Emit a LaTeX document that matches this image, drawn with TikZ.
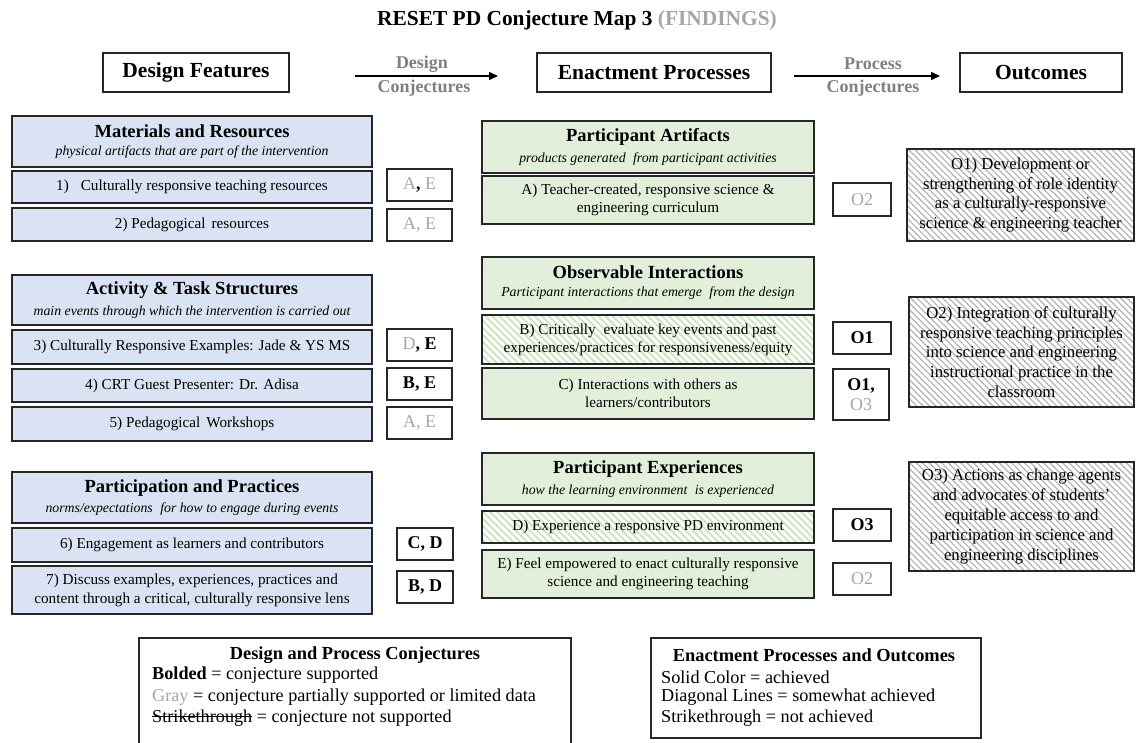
\documentclass[tikz,border=0pt]{standalone}
\usepackage{fontspec}
\setmainfont{Liberation Serif}
\usetikzlibrary{arrows.meta,patterns.meta}
\definecolor{blueF}{HTML}{DAE3F3}
\definecolor{greenF}{HTML}{E2EFDA}
\definecolor{greenH}{HTML}{CFE3C0}
\definecolor{hatchG}{HTML}{B3B3B3}
\definecolor{lgray}{HTML}{A6A6A6}
\definecolor{mgray}{HTML}{808080}
\definecolor{edge}{HTML}{262626}
\newcommand{\fsz}[2]{\fontsize{#1}{#2}\selectfont}
\newsavebox{\mystrkbox}
\newcommand{\mystrike}[1]{\sbox{\mystrkbox}{#1}\rlap{\rule[0.28em]{\wd\mystrkbox}{0.06em}}\usebox{\mystrkbox}}
\tikzset{
  box/.style={draw=edge, line width=1.4pt, inner sep=0pt, align=center, text=black},
  bluebox/.style={box, fill=blueF},
  greenbox/.style={box, fill=greenF},
  greenhatch/.style={box, pattern={Lines[angle=135,distance=5pt,line width=2pt]}, pattern color=greenH},
  grayhatch/.style={box, pattern={Lines[angle=135,distance=4.5pt,line width=1.2pt]}, pattern color=hatchG},
  tagbox/.style={box, fill=white, font=\fsz{18}{20}},
  hdrbox/.style={box, fill=white, font=\fsz{21.5}{24}\bfseries},
  itemtext/.style={font=\fsz{15.2}{18}},
  obox/.style={grayhatch, font=\fsz{16.75}{19.8}},
  lbl/.style={inner sep=0pt, font=\fsz{18}{20}\bfseries, text=mgray},
  legtitle/.style={inner sep=0pt, font=\fsz{18.4}{21}\bfseries},
  legline/.style={inner sep=0pt, anchor=west, font=\fsz{18.2}{21}},
  legbox/.style={draw=edge, line width=1.4pt, fill=white, inner sep=0pt},
  arr/.style={line width=1.5pt, -{Triangle[length=9pt,width=8pt]}},
}
\newcommand{\hd}[2]{{\fsz{18.5}{21}\bfseries #1}\\[6pt]{\fsz{13.8}{15}\itshape #2}}
\begin{document}
\begin{tikzpicture}[x=1pt,y=-1pt]
\fill[white] (0,0) rectangle (1138,743);
\useasboundingbox (0,0) rectangle (1138,743);
\begin{scope}
\clip (0,0) rectangle (1138,743);
% title
\node[inner sep=0pt, font=\fsz{21.4}{24}\bfseries] (title) at (577,20) {RESET PD Conjecture Map 3 \textcolor{lgray}{(FINDINGS)}};
% header row
\node[hdrbox, minimum width=186pt, minimum height=39pt] (hdf) at (196,72.5) {Design Features};
\node[hdrbox, minimum width=234pt, minimum height=39pt] (hep) at (654,72.5) {Enactment Processes};
\node[hdrbox, minimum width=162pt, minimum height=39pt] (hou) at (1041,72.5) {Outcomes};
\coordinate (a1s) at (355,76); \coordinate (a1e) at (498,76);
\coordinate (a2s) at (794,76); \coordinate (a2e) at (940,76);
\draw[arr] (a1s) -- (a1e);
\draw[arr] (a2s) -- (a2e);
\node[lbl] (a1t) at (422,64) {Design};
\node[lbl] (a1b) at (424,88) {Conjectures};
\node[lbl] (a2t) at (873,64) {Process};
\node[lbl] (a2b) at (873,88) {Conjectures};
% left column
\node[bluebox, minimum width=360pt, minimum height=51pt] (mat) at (192,141.5) {\hd{Materials and Resources}{physical artifacts that are part of the intervention}};
\node[bluebox, itemtext, minimum width=360pt, minimum height=32pt] (i1) at (192,187) {1)\hspace{12pt}Culturally responsive teaching resources};
\node[bluebox, itemtext, minimum width=360pt, minimum height=33pt] (i2) at (192,224.5) {2) Pedagogical\hspace{6pt}resources};
\node[bluebox, minimum width=360pt, minimum height=50pt] (act) at (192,300) {\hd{Activity \& Task Structures}{main events through which the intervention is carried out}};
\node[bluebox, itemtext, minimum width=360pt, minimum height=34pt] (i3) at (192,347) {3) Culturally Responsive Examples: Jade \& YS MS};
\node[bluebox, itemtext, minimum width=360pt, minimum height=33pt] (i4) at (192,385.5) {4) CRT Guest Presenter: Dr. Adisa};
\node[bluebox, itemtext, minimum width=360pt, minimum height=34pt] (i5) at (192,424) {5) Pedagogical\hspace{6pt}Workshops};
\node[bluebox, minimum width=360pt, minimum height=51pt] (par) at (192,497.5) {\hd{Participation and Practices}{norms/expectations\hspace{4pt} for how to engage during events}};
\node[bluebox, itemtext, minimum width=360pt, minimum height=34pt] (i6) at (192,545) {6) Engagement as learners and contributors};
\node[bluebox, itemtext, minimum width=360pt, minimum height=48pt] (i7) at (192,590) {7) Discuss examples, experiences, practices and\\[1pt]content through a critical, culturally responsive lens};
% left tags
\node[tagbox, minimum width=65pt, minimum height=32pt] (t1) at (419.5,185) {\textcolor{lgray}{A}\textbf{,} \textcolor{lgray}{E}};
\node[tagbox, minimum width=65pt, minimum height=32pt] (t2) at (419.5,225) {\textcolor{lgray}{A, E}};
\node[tagbox, minimum width=65pt, minimum height=32pt] (t3) at (419.5,345) {\textcolor{lgray}{D}\textbf{, E}};
\node[tagbox, minimum width=65pt, minimum height=32pt] (t4) at (419.5,384) {\textbf{B, E}};
\node[tagbox, minimum width=65pt, minimum height=32pt] (t5) at (419.5,423) {\textcolor{lgray}{A, E}};
\node[tagbox, minimum width=56pt, minimum height=32pt] (t6) at (425,544) {\textbf{C, D}};
\node[tagbox, minimum width=56pt, minimum height=32pt] (t7) at (425,587) {\textbf{B, D}};
% middle column
\node[greenbox, minimum width=332pt, minimum height=52pt] (art) at (648,147) {\hd{Participant Artifacts}{products generated\hspace{4pt} from participant activities}};
\node[greenbox, itemtext, minimum width=332pt, minimum height=48pt] (pa) at (648,200) {A) Teacher-created, responsive science \&\\engineering curriculum};
\node[greenbox, minimum width=332pt, minimum height=52pt] (obs) at (648,283) {\hd{Observable Interactions}{Participant interactions that emerge\hspace{4pt} from the design}};
\node[greenhatch, itemtext, minimum width=332pt, minimum height=49pt] (pb) at (648,339.5) {B) Critically\hspace{4pt} evaluate key events and past\\experiences/practices for responsiveness/equity};
\node[greenbox, itemtext, minimum width=332pt, minimum height=51pt] (pc) at (648,393.5) {C) Interactions with others as\\learners/contributors};
\node[greenbox, minimum width=332pt, minimum height=52pt] (exp) at (648,479) {\hd{Participant Experiences}{how the learning environment\hspace{4pt} is experienced}};
\node[greenhatch, itemtext, minimum width=332pt, minimum height=32pt] (pd) at (648,527) {D) Experience a responsive PD environment};
\node[greenbox, itemtext, minimum width=332pt, minimum height=48pt] (pe) at (648,574) {E) Feel empowered to enact culturally responsive\\science and engineering teaching};
% middle tags
\node[tagbox, minimum width=58pt, minimum height=33pt] (ta) at (862,199.5) {\textcolor{lgray}{O2}};
\node[tagbox, minimum width=58pt, minimum height=32pt] (tb) at (862,338) {\textbf{O1}};
\node[tagbox, minimum width=56pt, minimum height=51pt] (tc) at (861,394.5) {\textbf{O1,}\\\textcolor{lgray}{O3}};
\node[tagbox, minimum width=58pt, minimum height=32pt] (td) at (862,525) {\textbf{O3}};
\node[tagbox, minimum width=58pt, minimum height=32pt] (te) at (862,579) {\textcolor{lgray}{O2}};
% outcomes
\node[obox, minimum width=227pt, minimum height=92pt] (o1) at (1020.5,195) {O1) Development or\\strengthening of role identity\\as a culturally-responsive\\science \& engineering teacher};
\node[obox, minimum width=225pt, minimum height=110pt] (o2) at (1021.5,352) {O2) Integration of culturally\\responsive teaching principles\\into science and engineering\\instructional practice in the\\classroom};
\node[obox, minimum width=225pt, minimum height=109pt] (o3) at (1021.5,516.5) {O3) Actions as change agents\\and advocates of students’\\equitable access to and\\participation in science and\\engineering disciplines};
% legends
\node[legbox, minimum width=432pt, minimum height=114pt] (lg1) at (355,695) {};
\node[legtitle] (lg1t) at (355,655) {Design and Process Conjectures};
\node[legline] (lg1a) at (152,675.5) {\textbf{Bolded} = conjecture supported};
\node[legline] (lg1b) at (152,697) {\textcolor{lgray}{Gray} = conjecture partially supported or limited data};
\node[legline] (lg1c) at (152,718) {\mystrike{Strikethrough} = conjecture not supported};
\node[legbox, minimum width=330pt, minimum height=100pt] (lg2) at (816,688) {};
\node[legtitle] (lg2t) at (814,655) {Enactment Processes and Outcomes};
\node[legline] (lg2a) at (661,677) {Solid Color = achieved};
\node[legline] (lg2b) at (661,697) {Diagonal Lines = somewhat achieved};
\node[legline] (lg2c) at (661,718) {Strikethrough = not achieved};
\end{scope}
\end{tikzpicture}
\end{document}
